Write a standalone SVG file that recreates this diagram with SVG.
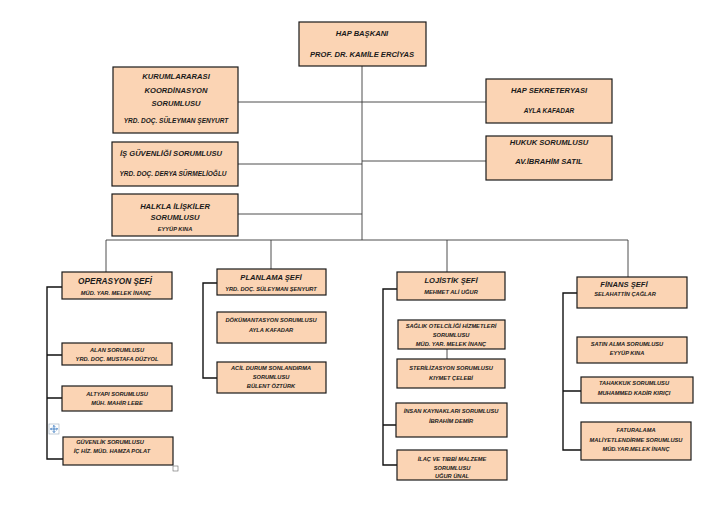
<svg xmlns="http://www.w3.org/2000/svg" width="725" height="509" viewBox="0 0 725 509">
<style>
.box{fill:#FBD4B4;stroke:#1a1a1a;stroke-width:1.2}
text{font-family:"Liberation Sans",Arial,sans-serif;font-weight:bold;font-style:italic;fill:#1a1a1a;text-anchor:middle}
.t{font-size:7.6px}
.s{font-size:6.5px}
.xs{font-size:5.7px}
.c{font-size:8.3px}
.ln{fill:none;stroke:#3a3a3a;stroke-width:0.9}
.lk{fill:none;stroke:#111;stroke-width:1.4}
</style>
<rect width="725" height="509" fill="#fff"/>
<g id="connectors">
<path class="ln" d="M362 66V240M238 102H486M238 164H362M238 214H362M362 161H486M106 240H628M106 240V272M271 240V269M447 240V272M628 240V277"/>
<path class="lk" d="M62 287H47V459H63M47 355H62M47 398H62"/>
<path class="lk" d="M217 283H203V378H217"/>
<path class="lk" d="M397 289H383V465H397M383 425H396"/>
<path class="ln" d="M447 349V359"/>
<path class="lk" d="M577 293H563V450H581M563 391H581"/>
</g>
<g id="hap"><rect class="box" x="299" y="22" width="127" height="44"/><text class="t" x="362" y="36">HAP BAŞKANI</text><text class="t" x="362" y="57">PROF. DR. KAMİLE  ERCİYAS</text></g>
<g id="kurum"><rect class="box" x="113" y="67" width="125" height="66"/><text class="t" x="176" y="79">KURUMLARARASI</text><text class="t" x="176" y="93">KOORDİNASYON</text><text class="t" x="176" y="106">SORUMLUSU</text><text class="s" x="176" y="123">YRD. DOÇ. SÜLEYMAN  ŞENYURT</text></g>
<g id="isg"><rect class="box" x="112" y="142" width="126" height="44"/><text class="t" x="171" y="156">İŞ GÜVENLİĞİ  SORUMLUSU</text><text class="s" x="173" y="176">YRD. DOÇ. DERYA SÜRMELİOĞLU</text></g>
<g id="halkla"><rect class="box" x="112" y="194" width="126" height="42"/><text class="t" x="175" y="209">HALKLA İLİŞKİLER</text><text class="t" x="175" y="220">SORUMLUSU</text><text class="xs" x="175" y="231">EYYÜP KINA</text></g>
<g id="sekr"><rect class="box" x="486" y="79" width="126" height="44"/><text class="t" x="549" y="93">HAP SEKRETERYASI</text><text class="s" x="549" y="113">AYLA KAFADAR</text></g>
<g id="hukuk"><rect class="box" x="486" y="136" width="126" height="44"/><text class="t" x="549" y="145">HUKUK SORUMLUSU</text><text class="t" x="549" y="164">AV.İBRAHİM   SATIL</text></g>
<g id="op"><rect class="box" x="62" y="272" width="110" height="27"/><text class="c" x="115" y="284">OPERASYON ŞEFİ</text><text class="xs" x="116" y="295">MÜD. YAR. MELEK İNANÇ</text></g>
<g id="alan"><rect class="box" x="62" y="343" width="110" height="22"/><text class="xs" x="117" y="352">ALAN SORUMLUSU</text><text class="xs" x="117" y="361">YRD. DOÇ.  MUSTAFA DÜZYOL</text></g>
<g id="altyapi"><rect class="box" x="62" y="386" width="110" height="25"/><text class="xs" x="117" y="396">ALTYAPI SORUMLUSU</text><text class="xs" x="117" y="405">MÜH. MAHİR LEBE</text></g>
<g id="guvenlik"><rect class="box" x="63" y="437" width="110" height="28"/><text class="xs" x="110" y="444">GÜVENLİK SORUMLUSU</text><text class="xs" x="112" y="453">İÇ HİZ. MÜD. HAMZA POLAT</text></g>
<g id="handles"><rect x="49" y="424" width="10" height="10" fill="#fff" stroke="#9ab" stroke-width="0.6"/><path d="M54 425.5V432.5M50.5 429H57.5M52.8 426.7L54 425.5L55.2 426.7M52.8 431.3L54 432.5L55.2 431.3M51.7 427.8L50.5 429L51.7 430.2M56.3 427.8L57.5 429L56.3 430.2" fill="none" stroke="#2a6ebb" stroke-width="0.8"/><rect x="173" y="466" width="5" height="5" fill="#fff" stroke="#666" stroke-width="0.6"/></g>
<g id="plan"><rect class="box" x="217" y="269" width="109" height="26"/><text class="t" x="271" y="280">PLANLAMA ŞEFİ</text><text class="xs" x="271" y="291">YRD. DOÇ. SÜLEYMAN ŞENYURT</text></g>
<g id="dok"><rect class="box" x="217" y="312" width="109" height="31"/><text class="xs" x="271" y="322">DÖKÜMANTASYON SORUMLUSU</text><text class="xs" x="271" y="332">AYLA KAFADAR</text></g>
<g id="acil"><rect class="box" x="217" y="362" width="109" height="31"/><text class="xs" x="271" y="370">ACİL DURUM SONLANDIRMA</text><text class="xs" x="271" y="379">SORUMLUSU</text><text class="xs" x="271" y="388">BÜLENT ÖZTÜRK</text></g>
<g id="loj"><rect class="box" x="397" y="272" width="108" height="28"/><text class="t" x="451" y="283">LOJİSTİK ŞEFİ</text><text class="xs" x="451" y="294">MEHMET ALİ UĞUR</text></g>
<g id="saglik"><rect class="box" x="398" y="320" width="107" height="29"/><text class="xs" x="451" y="328">SAĞLIK OTELCİLİĞİ HİZMETLERİ</text><text class="xs" x="451" y="337">SORUMLUSU</text><text class="xs" x="451" y="346">MÜD. YAR. MELEK İNANÇ</text></g>
<g id="steril"><rect class="box" x="397" y="359" width="108" height="29"/><text class="xs" x="451" y="370">STERİLİZASYON SORUMLUSU</text><text class="xs" x="451" y="380">KIYMET ÇELEBİ</text></g>
<g id="insan"><rect class="box" x="396" y="403" width="111" height="34"/><text class="xs" x="451" y="413">İNSAN KAYNAKLARI SORUMLUSU</text><text class="xs" x="451" y="423">İBRAHİM DEMİR</text></g>
<g id="ilac"><rect class="box" x="397" y="450" width="110" height="30"/><text class="xs" x="452" y="461">İLAÇ VE TIBBİ MALZEME</text><text class="xs" x="452" y="470">SORUMLUSU</text><text class="xs" x="452" y="478">UĞUR ÜNAL</text></g>
<g id="fin"><rect class="box" x="577" y="277" width="110" height="31"/><text class="t" x="624" y="287">FİNANS ŞEFİ</text><text class="xs" x="625" y="296">SELAHATTİN ÇAĞLAR</text></g>
<g id="satin"><rect class="box" x="577" y="337" width="110" height="26"/><text class="xs" x="627" y="346">SATIN ALMA SORUMLUSU</text><text class="xs" x="627" y="355">EYYÜP KINA</text></g>
<g id="tahak"><rect class="box" x="581" y="377" width="112" height="26"/><text class="xs" x="634" y="385">TAHAKKUK SORUMLUSU</text><text class="xs" x="634" y="395">MUHAMMED KADİR KIRIÇI</text></g>
<g id="fatura"><rect class="box" x="581" y="422" width="110" height="38"/><text class="xs" x="636" y="432">FATURALAMA</text><text class="xs" x="636" y="442">MALİYETLENDİRME SORUMLUSU</text><text class="xs" x="636" y="451">MÜD.YAR.MELEK İNANÇ</text></g>
</svg>
